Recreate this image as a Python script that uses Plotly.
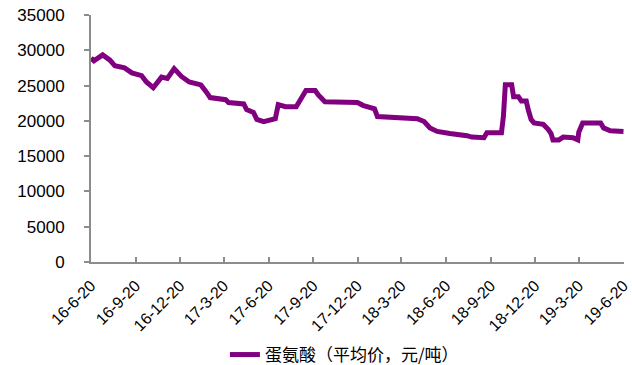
import plotly.graph_objects as go

dates = [
    "2016-06-20", "2016-06-26", "2016-07-14", "2016-07-29", "2016-08-08", "2016-08-28",
    "2016-09-12", "2016-10-02", "2016-10-12", "2016-10-26", "2016-11-12", "2016-11-24",
    "2016-12-08", "2016-12-23", "2017-01-08", "2017-02-01", "2017-02-12", "2017-02-20",
    "2017-03-24", "2017-03-30", "2017-04-30", "2017-05-06", "2017-05-20", "2017-05-27",
    "2017-06-10", "2017-06-24", "2017-07-04", "2017-07-10", "2017-07-25", "2017-08-16",
    "2017-08-26", "2017-09-05", "2017-09-24", "2017-09-30", "2017-10-14", "2017-11-16",
    "2017-12-20", "2017-12-31", "2018-01-24", "2018-01-30", "2018-02-26", "2018-03-06",
    "2018-04-22", "2018-05-06", "2018-05-18", "2018-06-02", "2018-06-18", "2018-06-28",
    "2018-08-02", "2018-08-12", "2018-09-06", "2018-09-12", "2018-10-12", "2018-10-16",
    "2018-10-20", "2018-11-02", "2018-11-06", "2018-11-16", "2018-11-22", "2018-12-02",
    "2018-12-06", "2018-12-12", "2018-12-18", "2019-01-06", "2019-01-16", "2019-01-22",
    "2019-01-26", "2019-02-07", "2019-02-16", "2019-03-08", "2019-03-18", "2019-03-20",
    "2019-03-28", "2019-05-04", "2019-05-10", "2019-05-24", "2019-06-20",
]
prices = [
    28900, 28500, 29350, 28600, 27800, 27500,
    26800, 26400, 25500, 24700, 26200, 26000,
    27400, 26300, 25500, 25100, 24100, 23300,
    23000, 22600, 22400, 21600, 21200, 20200,
    19900, 20200, 20300, 22300, 22000, 22000,
    23000, 24300, 24300, 23700, 22700, 22600,
    22600, 22200, 21700, 20600, 20500, 20300,
    20300, 19900, 19000, 18500, 18400, 18200,
    17900, 17700, 17600, 18300, 18300, 20600,
    25100, 25100, 23400, 23400, 22800, 22800,
    21600, 20200, 19700, 19500, 18800, 18200,
    17300, 17300, 17700, 17600, 17300, 18400,
    19700, 19700, 19000, 18600, 18500,
]

tick_dates = [
    "2016-06-20", "2016-09-20", "2016-12-20", "2017-03-20", "2017-06-20",
    "2017-09-20", "2017-12-20", "2018-03-20", "2018-06-20", "2018-09-20",
    "2018-12-20", "2019-03-20", "2019-06-20",
]
tick_labels = [
    "16-6-20", "16-9-20", "16-12-20", "17-3-20", "17-6-20", "17-9-20",
    "17-12-20", "18-3-20", "18-6-20", "18-9-20", "18-12-20", "19-3-20", "19-6-20",
]
series_name = "蛋氨酸（平均价，元/吨）"

fig = go.Figure()
fig.add_trace(go.Scatter(
    x=dates, y=prices, mode="lines", name=series_name,
    line=dict(color="#800080", width=5),
))

axis_col = "#8c8c8c"
fig.update_layout(
    width=632, height=365,
    margin=dict(l=91, r=8, t=15, b=103, autoexpand=False),
    paper_bgcolor="white", plot_bgcolor="white",
    font=dict(family="Liberation Sans, Arial, sans-serif", color="#000000"),
    showlegend=True,
    legend=dict(
        orientation="h", x=0.545, xanchor="center", xref="container",
        y=10 / 365, yanchor="middle", yref="container",
        font=dict(family="Noto Sans CJK SC, sans-serif", size=17, color="#000000"),
        bgcolor="rgba(0,0,0,0)",
    ),
    xaxis=dict(
        type="date",
        range=["2016-06-20", "2019-06-21"],
        tickvals=tick_dates, ticktext=tick_labels,
        tickangle=-45,
        tickfont=dict(size=16),
        ticklabeloverflow="allow",
        ticklabelstandoff=6,
        automargin=False,
        showgrid=False, zeroline=False,
        showline=True, linecolor=axis_col, linewidth=2,
        ticks="inside", ticklen=5, tickcolor=axis_col, tickwidth=1.5,
    ),
    yaxis=dict(
        range=[0, 35000], dtick=5000, tick0=0, tickformat="d",
        tickfont=dict(size=17),
        automargin=False,
        showgrid=False, zeroline=False,
        showline=True, linecolor=axis_col, linewidth=2,
        ticks="outside", ticklen=5, tickcolor=axis_col, tickwidth=1.5,
        ticklabelstandoff=16,
    ),
)

fig.write_html(
    "out.html",
    config={"displayModeBar": False},
    post_script="document.body.style.margin='0';document.body.style.overflow='hidden';",
)
